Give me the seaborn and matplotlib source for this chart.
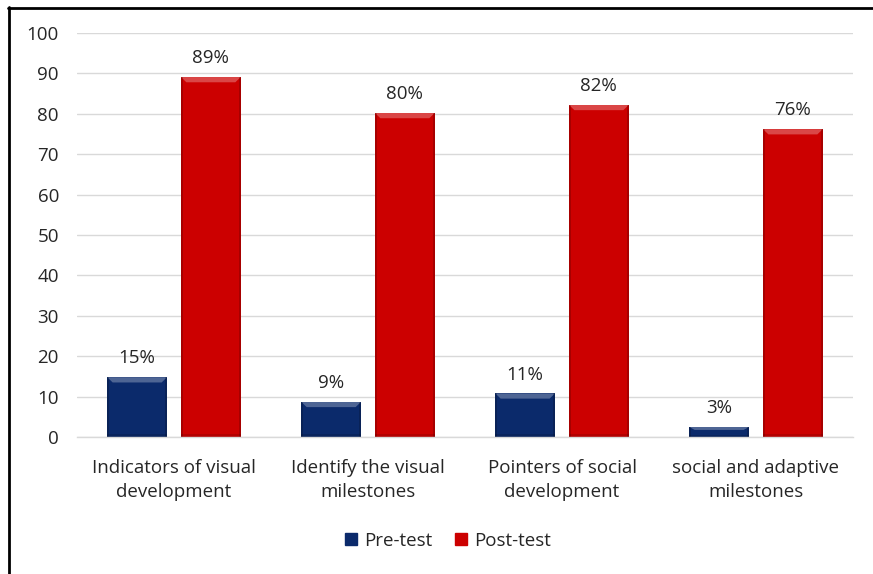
import matplotlib
matplotlib.use("Agg")
import matplotlib.pyplot as plt
import seaborn as sns
import pandas as pd
from matplotlib.lines import Line2D
from matplotlib.patches import Rectangle, Polygon

categories = ["Indicators of visual\ndevelopment", "Identify the visual\nmilestones",
              "Pointers of social\ndevelopment", "social and adaptive\nmilestones"]
pre_test = [14.8, 8.7, 10.8, 2.5]
post_test = [89.1, 80.2, 82.2, 76.2]
pre_labels = ["15%", "9%", "11%", "3%"]
post_labels = ["89%", "80%", "82%", "76%"]
series = ["Pre-test", "Post-test"]
yticks = [0, 10, 20, 30, 40, 50, 60, 70, 80, 90, 100]

colors = {"Pre-test": "#0b2a6b", "Post-test": "#cc0000"}
FS = 13.5

df = pd.DataFrame({
    "category": categories * 2,
    "series": [series[0]] * 4 + [series[1]] * 4,
    "value": pre_test + post_test,
})

sns.set_theme(style="white")
plt.rcParams["font.family"] = ["Open Sans", "DejaVu Sans"]

fig = plt.figure(figsize=(8.73, 5.74), dpi=100)
ax = fig.add_axes([77/873, 1-437/574, (853-77)/873, (437-33)/574])

sns.barplot(data=df, x="category", y="value", hue="series", order=categories,
            hue_order=series, palette=colors, width=0.76, gap=0.19,
            ax=ax, legend=False, saturation=1, edgecolor="none")

ax.set_ylim(0, 100)
ax.set_yticks(yticks)
ax.set_yticklabels([str(t) for t in yticks], fontsize=FS, color="#262626")
ax.yaxis.grid(True, color="#d9d9d9", linewidth=1)
ax.set_axisbelow(True)
for s in ["top", "right", "left"]:
    ax.spines[s].set_visible(False)
ax.spines["bottom"].set_color("#d9d9d9")
ax.spines["bottom"].set_linewidth(1)
ax.tick_params(axis="both", length=0)
ax.tick_params(axis="y", pad=13)
ax.tick_params(axis="x", pad=16)
ax.set_xlabel("")
ax.set_ylabel("")
for lbl in ax.get_xticklabels():
    lbl.set_fontsize(FS)
    lbl.set_color("#262626")
    lbl.set_linespacing(1.38)

# bevel-like shading using the drawn bar patches
for c, cont in enumerate(ax.containers):
    labels = pre_labels if c == 0 else post_labels
    ax.bar_label(cont, labels=labels, padding=7, fontsize=FS, color="#262626")
    for p in cont.patches:
        x0, w, h = p.get_x(), p.get_width(), p.get_height()
        z = p.get_zorder() + 0.1
        bev = min(1.3, h * 0.3)
        dx = w * 0.09
        ax.add_patch(Polygon([(x0, h), (x0 + w, h), (x0 + w - dx, h - bev), (x0 + dx, h - bev)],
                             closed=True, facecolor="white", alpha=0.28, edgecolor="none", zorder=z))
        ax.add_patch(Rectangle((x0, 0), w * 0.035, h, facecolor="black", alpha=0.18,
                               edgecolor="none", zorder=z))
        ax.add_patch(Rectangle((x0 + w * 0.965, 0), w * 0.035, h, facecolor="black", alpha=0.18,
                               edgecolor="none", zorder=z))
        ax.add_patch(Rectangle((x0, 0), w, min(0.8, h * 0.2), facecolor="black", alpha=0.12,
                               edgecolor="none", zorder=z))

handles = [Line2D([0], [0], marker="s", linestyle="none", markersize=8,
                  markerfacecolor=colors[s], markeredgecolor=colors[s]) for s in series]
fig.legend(handles, series, loc="center", bbox_to_anchor=(0.513, 1-541/574), ncol=2,
           frameon=False, fontsize=FS, handlelength=0.7, handletextpad=0.35,
           columnspacing=1.2, labelcolor="#262626")

# outer frame (top and left edges visible)
fig.add_artist(Line2D([8/873, 1], [1-7.5/574, 1-7.5/574], color="black", linewidth=2,
                      transform=fig.transFigure))
fig.add_artist(Line2D([8.5/873, 8.5/873], [0, 1-7/574], color="black", linewidth=2,
                      transform=fig.transFigure))

fig.savefig("out.png", dpi=100)
